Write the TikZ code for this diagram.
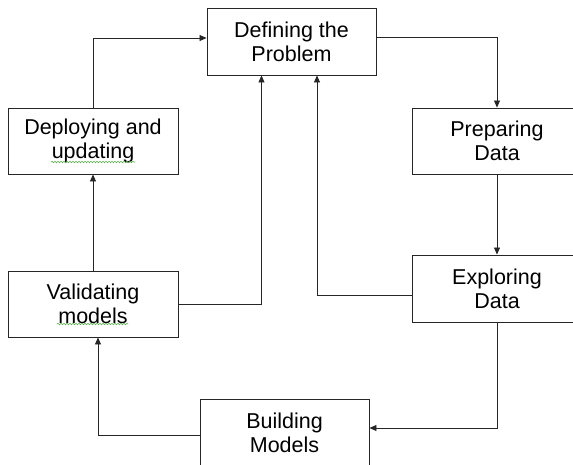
\documentclass[tikz,border=0pt]{standalone}
\usepackage{fontspec}
\setmainfont{Liberation Sans}
\usetikzlibrary{arrows.meta,decorations.pathmorphing}
\definecolor{spellgreen}{RGB}{90,175,75}
\begin{document}
\begin{tikzpicture}[x=1pt,y=-1pt,
  stagebox/.style={draw=black!85,line width=0.9pt,fill=white,align=center,
    inner sep=0pt,font=\fontsize{21.5}{24}\selectfont},
  link/.style={draw=black!85,line width=0.8pt,-{Triangle[length=7pt,width=6pt]}},
  squiggle/.style={draw=spellgreen,line width=0.6pt,
    decorate,decoration={snake,amplitude=0.7pt,segment length=3pt}}]
\useasboundingbox (0,0) rectangle (573,465);

% the six stages of the cycle
\node[stagebox,minimum width=169pt,minimum height=67pt] (def) at (291.5,41.5) {Defining the\\Problem};
\node[stagebox,minimum width=170pt,minimum height=66pt] (dep) at (93,141) {Deploying and\\updating};
\node[stagebox,minimum width=170pt,minimum height=66pt] (val) at (93,304) {Validating\\models};
\node[stagebox,minimum width=170pt,minimum height=66pt] (prep) at (497,141) {Preparing\\Data};
\node[stagebox,minimum width=170pt,minimum height=67pt] (expl) at (497,288.5) {Exploring\\Data};
\node[stagebox,minimum width=169pt,minimum height=67pt] (build) at (284.5,432.5) {Building\\Models};

% connectors
\draw[link] (dep.north) |- ([yshift=3.5pt]def.west);
\draw[link] ([yshift=4pt]def.east) -| (prep.north);
\draw[link] (prep.south) -- (expl.north);
\draw[link] (expl.south) |- ([yshift=4.5pt]build.east);
\draw[link] ([yshift=-2.5pt]build.west) -| ([xshift=5pt]val.south);
\draw[link] (val.north) -- (dep.south);
\draw[link] (val.east) -| ([xshift=-30pt]def.south);
\draw[link] ([yshift=-6.5pt]expl.west) -| ([xshift=25.5pt]def.south);

% spell-check underlines
\draw[squiggle] (51,162) -- (135,162);
\draw[squiggle] (57,324) -- (128,324);
\end{tikzpicture}
\end{document}
